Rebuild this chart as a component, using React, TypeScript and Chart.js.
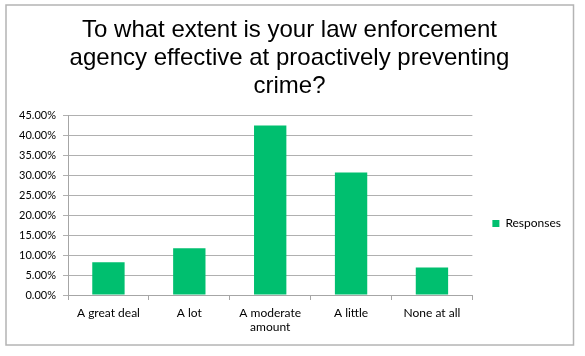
import React, { useEffect, useRef } from "react";
import { Chart, registerables } from "chart.js";

Chart.register(...registerables);

const titleLines = [
  "To what extent is your law enforcement",
  "agency effective at proactively preventing",
  "crime?",
];
const categories: (string | string[])[] = [
  "A great deal",
  "A lot",
  ["A moderate", "amount"],
  "A little",
  "None at all",
];
const seriesName = "Responses";
const responses = [8.2, 11.7, 42.4, 30.6, 6.9];
const yMin = 0;
const yMax = 45;
const yStep = 5;

const frame = {
  id: "frame",
  afterDraw(chart: any) {
    const ctx = chart.ctx;
    ctx.save();
    ctx.strokeStyle = "#b4b4b4";
    ctx.lineWidth = 1.5;
    ctx.strokeRect(6, 5, 567.5, 340);
    ctx.restore();
  },
};

export default function App() {
  const ref = useRef<HTMLCanvasElement | null>(null);
  useEffect(() => {
    if (!ref.current) return;
    const chart = new Chart(ref.current, {
      type: "bar",
      data: {
        labels: categories,
        datasets: [
          {
            label: seriesName,
            data: responses,
            backgroundColor: "#00BF6F",
            borderWidth: 0,
            barPercentage: 0.4,
            categoryPercentage: 1,
          },
        ],
      },
      options: {
        responsive: false,
        animation: false,
        devicePixelRatio: 1,
        layout: { padding: { left: 8, right: 14, top: 0, bottom: 0 } },
        plugins: {
          title: {
            display: true,
            text: titleLines,
            color: "#000",
            font: { family: "'Liberation Sans', Arial, sans-serif", size: 24, weight: "normal", lineHeight: 28 / 24 },
            padding: { top: 16, bottom: 15 },
          },
          legend: {
            display: true,
            position: "right",
            fullSize: false,
            title: { display: true, text: "", font: { size: 10, lineHeight: 1 }, padding: { top: 0, bottom: 27 } },
            labels: {
              boxWidth: 7,
              boxHeight: 7,
              padding: 20,
              color: "#000",
              font: { family: "Lato, sans-serif", size: 12 },
            },
          },
          tooltip: { enabled: false },
        },
        scales: {
          x: {
            afterFit(scale: any) {
              scale.height = 61;
            },
            grid: { offset: true, drawOnChartArea: false, tickLength: 5, color: "#a6a6a6" },
            border: { color: "#a6a6a6" },
            ticks: { color: "#000", padding: 6, font: { family: "Lato, sans-serif", size: 12, lineHeight: 1.2 }, maxRotation: 0, autoSkip: false },
          },
          y: {
            min: yMin,
            max: yMax,
            afterFit(scale: any) {
              scale.width = 60;
            },
            grid: { color: "#b0b0b0", tickLength: 5 },
            border: { color: "#a6a6a6" },
            ticks: {
              stepSize: yStep,
              padding: 7,
              color: "#000",
              font: { family: "Lato, sans-serif", size: 11 },
              callback: (v: any) => Number(v).toFixed(2) + "%",
            },
          },
        },
      },
      plugins: [frame],
    });
    return () => chart.destroy();
  }, []);
  return (
    <div style={{ position: "absolute", left: 0, top: 0, width: 585, height: 356, background: "#fff" }}>
      <canvas ref={ref} width={585} height={356} />
    </div>
  );
}
